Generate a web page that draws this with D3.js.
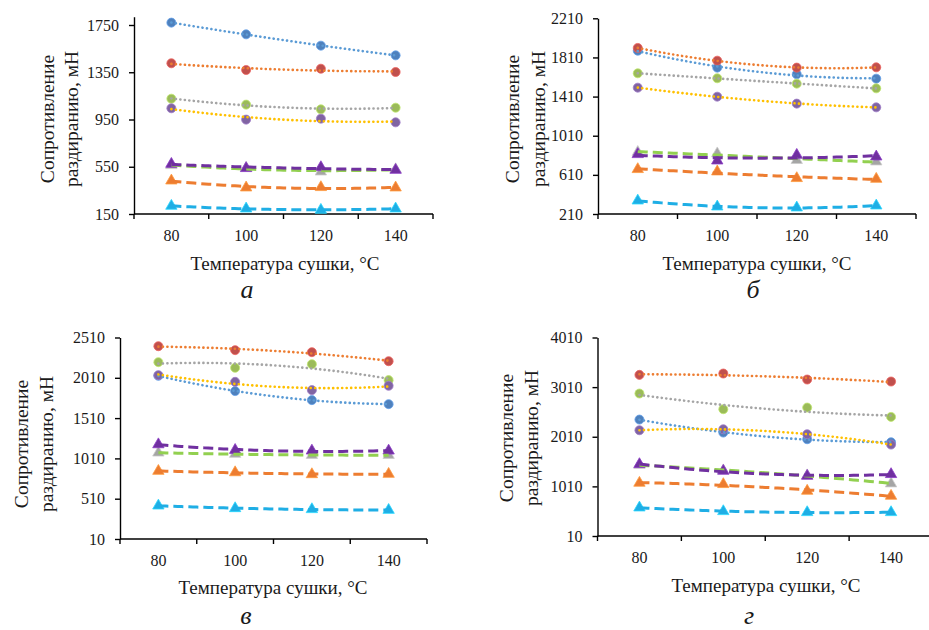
<!DOCTYPE html>
<html>
<head>
<meta charset="utf-8">
<script src="https://cdn.jsdelivr.net/npm/d3@7"></script>
<style>
body { margin: 0; background: #fff; }
</style>
</head>
<body>
<script>
// categories (drying temperature)
var temps = ["80", "100", "120", "140"];

// series order: blue circ, red circ, green circ, purple circ, gray tri, purple tri, orange tri, cyan tri
var valuesA = [
  [1770, 1671, 1575, 1493],
  [1426, 1369, 1380, 1352],
  [1126, 1076, 1036, 1050],
  [1045, 949, 957, 926],
  [562, 540, 508, 528],
  [573, 537, 545, 522],
  [432, 373, 376, 373],
  [218, 195, 184, 195]
];
var valuesB = [
  [1879, 1706, 1638, 1593],
  [1907, 1777, 1706, 1709],
  [1648, 1597, 1542, 1494],
  [1501, 1409, 1338, 1300],
  [842, 828, 760, 745],
  [820, 755, 813, 796],
  [667, 643, 575, 568],
  [346, 285, 275, 295]
];
var valuesC = [
  [2035, 1845, 1733, 1683],
  [2402, 2353, 2328, 2216],
  [2204, 2134, 2179, 1981],
  [2043, 1960, 1857, 1911],
  [1080, 1064, 1051, 1051],
  [1183, 1113, 1105, 1105],
  [853, 836, 812, 816],
  [423, 390, 378, 369]
];
var valuesD = [
  [2356, 2094, 1960, 1899],
  [3257, 3284, 3163, 3123],
  [2881, 2565, 2598, 2410],
  [2141, 2161, 2061, 1852],
  [1440, 1330, 1230, 1066],
  [1455, 1321, 1220, 1254],
  [1079, 1052, 918, 817],
  [581, 507, 487, 487]
];

// y tick labels
var ticksA = [150, 550, 950, 1350, 1750];
var ticksB = [210, 610, 1010, 1410, 1810, 2210];
var ticksC = [10, 510, 1010, 1510, 2010, 2510];
var ticksD = [10, 1010, 2010, 3010, 4010];

var panelLabels = ["а", "б", "в", "г"];
var yTitle = ["Сопротивление", "раздиранию, мН"];
var xTitle = "Температура сушки, °С";

var FONT = "Liberation Serif";

// marker / trendline look of each series
var styles = [
  {shape: "circle", fill: "#4F81BD", line: "#5B9BD5", dash: "dot"},
  {shape: "circle", fill: "#C0504D", line: "#ED7D31", dash: "dot"},
  {shape: "circle", fill: "#9BBB59", line: "#A5A5A5", dash: "dot"},
  {shape: "circle", fill: "#8064A2", line: "#FFC000", dash: "dot"},
  {shape: "tri", fill: "#A5A5A5", line: "#92D050", dash: "dash"},
  {shape: "tri", fill: "#7030A0", line: "#7030A0", dash: "dash"},
  {shape: "tri", fill: "#ED7D31", line: "#ED7D31", dash: "dash"},
  {shape: "tri", fill: "#1FAEE5", line: "#1FAEE5", dash: "dash"}
];

// panel geometry
var panels = [
  {vals: valuesA, ticks: ticksA, yMax: 1820, left: 134, right: 433, bottom: 214, topTick: 25,
   yt: [48, 72, 119], xt: [285, 264], lab: [247, 298]},
  {vals: valuesB, ticks: ticksB, yMax: 2210, left: 598, right: 916, bottom: 214, topTick: 18.3,
   yt: [513, 539, 119], xt: [757, 264], lab: [753, 298]},
  {vals: valuesC, ticks: ticksC, yMax: 2510, left: 120, right: 427, bottom: 539, topTick: 337.5,
   yt: [22, 47, 444], xt: [273, 588], lab: [246, 624]},
  {vals: valuesD, ticks: ticksD, yMax: 4010, left: 597.5, right: 933, bottom: 536, topTick: 337.5,
   yt: [507, 532, 438], xt: [766, 586], lab: [749, 624]}
];

var svg = d3.select("body").append("svg")
    .attr("width", 929)
    .attr("height", 630)
    .attr("font-family", FONT);

// least squares quadratic through 4 points (Excel polynomial trendline, order 2)
function quadFit(v) {
  var t = [0, 1, 2, 3];
  var n = 4, s1 = 0, s2 = 0, s3 = 0, s4 = 0, sy = 0, sty = 0, st2y = 0;
  t.forEach(function(x, i) {
    s1 += x; s2 += x * x; s3 += x * x * x; s4 += x * x * x * x;
    sy += v[i]; sty += x * v[i]; st2y += x * x * v[i];
  });
  var M = [[n, s1, s2, sy], [s1, s2, s3, sty], [s2, s3, s4, st2y]];
  for (var c = 0; c < 3; c++) {
    for (var r = c + 1; r < 3; r++) {
      var f = M[r][c] / M[c][c];
      for (var k = c; k < 4; k++) M[r][k] -= f * M[c][k];
    }
  }
  var b = [0, 0, 0];
  for (var r2 = 2; r2 >= 0; r2--) {
    var s = M[r2][3];
    for (var k2 = r2 + 1; k2 < 3; k2++) s -= M[r2][k2] * b[k2];
    b[r2] = s / M[r2][r2];
  }
  return function(x) { return b[0] + b[1] * x + b[2] * x * x; };
}

panels.forEach(function(p, pi) {
  var g = svg.append("g");

  var x = d3.scaleBand().domain(temps).range([p.left, p.right]);
  var k = (p.bottom - p.topTick) / (p.ticks[p.ticks.length - 1] - p.ticks[0]);
  var y = d3.scaleLinear()
      .domain([p.ticks[0], p.yMax])
      .range([p.bottom, p.bottom - (p.yMax - p.ticks[0]) * k]);

  // y axis
  var ya = g.append("g")
      .attr("transform", "translate(" + p.left + ",0)")
      .call(d3.axisLeft(y).tickValues(p.ticks).tickFormat(d3.format("d"))
        .tickSize(5).tickSizeOuter(0).tickPadding(10));
  ya.attr("font-family", FONT).attr("font-size", 16);
  ya.selectAll("path, line").attr("stroke", "#000").attr("stroke-width", 1.4);
  ya.selectAll("text").attr("font-family", FONT).attr("font-size", 16).attr("fill", "#1a1a1a");

  // x axis: labels at category centres, tick marks between categories
  var xa = g.append("g")
      .attr("transform", "translate(0," + p.bottom + ")")
      .call(d3.axisBottom(x).tickSize(0).tickPadding(16));
  xa.attr("font-family", FONT).attr("font-size", 16);
  xa.select(".domain").remove();
  xa.selectAll("text").attr("font-family", FONT).attr("font-size", 16).attr("fill", "#1a1a1a");

  g.append("line")
      .attr("x1", p.left).attr("x2", Math.min(p.right, 929))
      .attr("y1", p.bottom).attr("y2", p.bottom)
      .attr("stroke", "#000").attr("stroke-width", 1.4);
  g.selectAll(".xtick")
      .data(d3.range(temps.length + 1))
      .enter().append("line")
      .attr("x1", function(i) { return p.left + i * x.step(); })
      .attr("x2", function(i) { return p.left + i * x.step(); })
      .attr("y1", p.bottom).attr("y2", p.bottom + 5)
      .attr("stroke", "#000").attr("stroke-width", 1.4);

  // axis titles
  yTitle.forEach(function(s, i) {
    g.append("text")
        .attr("transform", "translate(" + p.yt[i] + "," + p.yt[2] + ") rotate(-90)")
        .attr("text-anchor", "middle")
        .attr("dy", "0.33em")
        .attr("fill", "#1a1a1a")
        .attr("font-family", FONT)
        .attr("font-size", 19.5)
        .text(s);
  });
  g.append("text")
      .attr("x", p.xt[0]).attr("y", p.xt[1])
      .attr("dy", "0.33em")
      .attr("text-anchor", "middle")
      .attr("fill", "#1a1a1a")
      .attr("font-family", FONT)
      .attr("font-size", 19)
      .text(xTitle);
  g.append("text")
      .attr("x", p.lab[0]).attr("y", p.lab[1])
      .attr("text-anchor", "middle")
      .attr("fill", "#1a1a1a")
      .attr("font-family", FONT)
      .attr("font-size", 26)
      .attr("font-style", "italic")
      .text(panelLabels[pi]);

  var cx = function(i) { return x(temps[i]) + x.bandwidth() / 2; };

  // markers
  p.vals.forEach(function(v, si) {
    var st = styles[si];
    var sym = d3.symbol().type(st.shape == "circle" ? d3.symbolCircle : d3.symbolTriangle)
        .size(st.shape == "circle" ? 64 : 56);
    g.selectAll(".m" + si)
        .data(v)
        .enter().append("path")
        .attr("d", sym)
        .attr("transform", function(d, i) {
          return "translate(" + cx(i) + "," + y(d) + ")";
        })
        .attr("fill", st.fill)
        .attr("stroke", d3.color(st.fill).brighter(0.6))
        .attr("stroke-width", 0.8);
  });

  // trendlines on top of markers
  var line = d3.line()
      .x(function(d) { return x(temps[0]) + x.bandwidth() / 2 + d[0] * x.step(); })
      .y(function(d) { return y(d[1]); });
  p.vals.forEach(function(v, si) {
    var st = styles[si];
    var fit = quadFit(v);
    var pts = d3.range(0, 3.001, 0.05).map(function(t) { return [t, fit(t)]; });
    g.append("path")
        .datum(pts)
        .attr("d", line)
        .attr("fill", "none")
        .attr("stroke", st.line)
        .attr("stroke-width", st.dash == "dot" ? 2.6 : 3)
        .attr("stroke-linecap", st.dash == "dot" ? "round" : "butt")
        .attr("stroke-dasharray", st.dash == "dot" ? "0.1 4.4" : "10 5");
  });
});
</script>
</body>
</html>
